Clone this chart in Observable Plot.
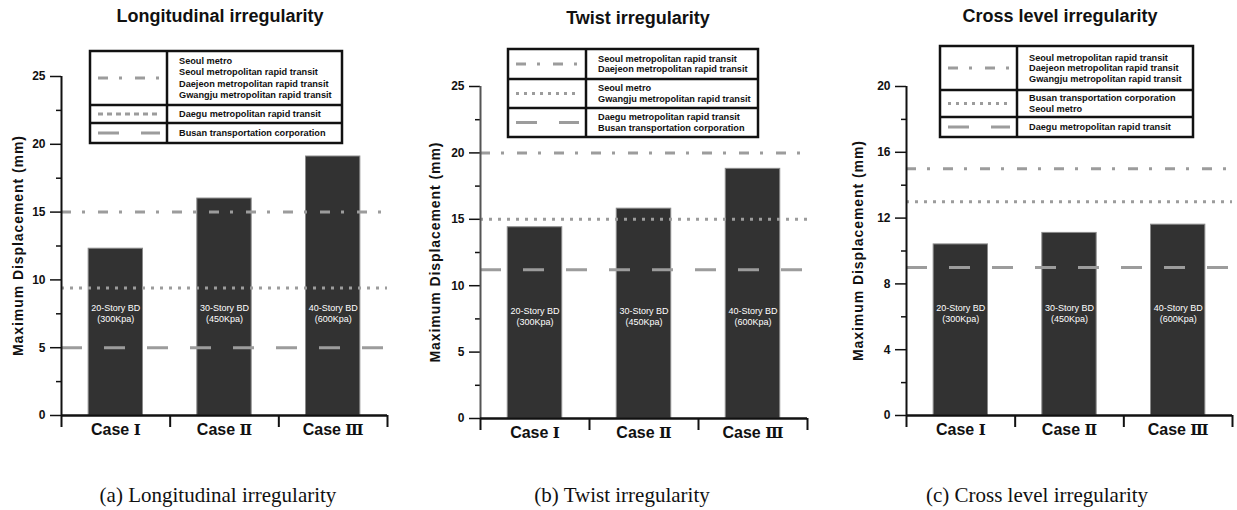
<!DOCTYPE html>
<html><head><meta charset="utf-8">
<script src="https://cdn.jsdelivr.net/npm/d3@7"></script>
<script src="https://cdn.jsdelivr.net/npm/@observablehq/plot@0.6"></script>
<style>
body{margin:0;background:#fff;}
#root{position:relative;width:1237px;height:510px;overflow:hidden;font-family:"Liberation Sans",Arial,sans-serif;background:#fff;}
.title{position:absolute;font-weight:bold;font-size:18px;transform:translate(-50%,-50%);white-space:nowrap;color:#111;}
.caption{position:absolute;font-family:"Liberation Serif","Times New Roman",serif;font-size:21px;transform:translate(-50%,-50%);white-space:nowrap;color:#111;}
.panel{position:absolute;top:0;}
#overlay{position:absolute;left:0;top:0;pointer-events:none;}
</style></head><body><div id="root"></div>
<script>
// ---------- data ----------
const cases = ["Case Ⅰ", "Case Ⅱ", "Case Ⅲ"];
const buildings = ["20-Story BD\n(300Kpa)", "30-Story BD\n(450Kpa)", "40-Story BD\n(600Kpa)"];
const titles = ["Longitudinal irregularity", "Twist irregularity", "Cross level irregularity"];
const captions = ["(a) Longitudinal irregularity", "(b) Twist irregularity", "(c) Cross level irregularity"];
const yLabel = "Maximum Displacement (mm)";

const longValues = [12.3, 16.0, 19.1];
const twistValues = [14.4, 15.8, 18.8];
const crossValues = [10.4, 11.1, 11.6];

// limit lines: [dash-dot, dotted, dashed]
const longLimits = [15, 9.4, 5];
const twistLimits = [20, 15, 11.2];
const crossLimits = [15, 13, 9];

const longTicks = [0, 5, 10, 15, 20, 25];
const longMinor = [2.5, 7.5, 12.5, 17.5, 22.5];
const twistTicks = [0, 5, 10, 15, 20, 25];
const twistMinor = [2.5, 7.5, 12.5, 17.5, 22.5];
const crossTicks = [0, 4, 8, 12, 16, 20];
const crossMinor = [2, 6, 10, 14, 18];

const longLegend = [
  ["Seoul metro", "Seoul metropolitan rapid transit", "Daejeon metropolitan rapid transit", "Gwangju metropolitan rapid transit"],
  ["Daegu metropolitan rapid transit"],
  ["Busan transportation corporation"]
];
const twistLegend = [
  ["Seoul metropolitan rapid transit", "Daejeon metropolitan rapid transit"],
  ["Seoul metro", "Gwangju metropolitan rapid transit"],
  ["Daegu metropolitan rapid transit", "Busan transportation corporation"]
];
const crossLegend = [
  ["Seoul metropolitan rapid transit", "Daejeon metropolitan rapid transit", "Gwangju metropolitan rapid transit"],
  ["Busan transportation corporation", "Seoul metro"],
  ["Daegu metropolitan rapid transit"]
];

// ---------- styles / layout ----------
const GRAY = "#9c9c9c";
const dashes = ["10,11,3,13", "3,6", "21,22"];
const FONT = "'Liberation Sans', Arial, sans-serif";
const NUMFONT = "'DejaVu Serif', 'Liberation Serif', serif";

const panels = [
  {values: longValues, limits: longLimits, ticks: longTicks, minor: longMinor, ymax: 25, legend: longLegend,
   left: 0, w: 410, ml: 61, mr: 23, mt: 76, mb: 35, labelDx: -43,
   title: [220, 16], caption: [218, 495],
   lg: {x: 90, y: 51, w: 252, split: 167, rows: [54, 18, 20], lh: 11.5, sample: ["10,11,3,13", "5,4", "21,22"]}},
  {values: twistValues, limits: twistLimits, ticks: twistTicks, minor: twistMinor, ymax: 25, legend: twistLegend,
   left: 410, w: 420, ml: 70, mr: 23, mt: 86, mb: 32, labelDx: -45,
   title: [638, 18], caption: [622, 495],
   lg: {x: 508, y: 49, w: 250, split: 586, rows: [30, 29, 29], lh: 10.5, sample: ["10,11,3,13", "3,5", "21,22"]}},
  {values: crossValues, limits: crossLimits, ticks: crossTicks, minor: crossMinor, ymax: 20, legend: crossLegend,
   left: 830, w: 407, ml: 76, mr: 5, mt: 86, mb: 35, labelDx: -48,
   title: [1060, 16], caption: [1037, 495],
   lg: {x: 940, y: 46, w: 253, split: 1017, rows: [44, 27, 20], lh: 10.5, sample: ["10,11,3,13", "3,5", "21,22"]}}
];

const root = document.getElementById("root");

panels.forEach((p, pi) => {
  const bars = p.values.map((v, i) => ({i, v, label: buildings[i]}));
  const lims = p.limits.map((v, k) => ({v, k}));
  const chart = Plot.plot({
    width: p.w, height: 450,
    marginLeft: p.ml, marginRight: p.mr, marginTop: p.mt, marginBottom: p.mb,
    x: {domain: [0, 3], axis: null},
    y: {domain: [0, p.ymax], axis: null},
    style: {fontFamily: FONT, background: "transparent", overflow: "visible", color: "#111"},
    marks: [
      Plot.rectY(bars, {x1: d => d.i + 0.25, x2: d => d.i + 0.75, y: "v", fill: "#323232", stroke: "#8a8a8a", strokeWidth: 1}),
      ...[0, 1, 2].map(k => Plot.ruleY(lims.filter(d => d.k === k), {
        y: "v", x1: 0, x2: 3, stroke: GRAY, strokeWidth: 3, strokeDasharray: dashes[k]
      })),
      Plot.text(bars, {x: d => d.i + 0.5, text: "label", frameAnchor: "bottom", dy: -103, lineAnchor: "middle",
        fill: "white", fontSize: 9, lineHeight: 1.22}),
      Plot.axisY({ticks: p.ticks, tickSize: 11, tickPadding: 5, fontSize: 12, fontWeight: "bold", label: null, strokeWidth: 1.5, tickFormat: d => d}),
      Plot.axisY({ticks: p.minor, tickSize: 5, tickFormat: () => "", label: null, strokeWidth: 1.5}),
      Plot.ruleX([0], {stroke: pi === 1 ? "#555" : "#111", strokeWidth: 2}),
      Plot.ruleY([0], {stroke: "#111", strokeWidth: 2.5}),
      Plot.axisX({ticks: [0, 1, 2, 3], tickSize: 12, tickFormat: () => "", label: null, strokeWidth: 2}),
      Plot.axisX({ticks: [0.5, 1.5, 2.5], tickSize: 0, tickPadding: 8, tickFormat: t => cases[Math.floor(t)],
        fontSize: 16, fontWeight: "bold", label: null}),
      Plot.text([yLabel], {text: d => d, frameAnchor: "left", textAnchor: "middle", rotate: -90, dx: p.labelDx,
        fontWeight: "bold", fontSize: 14})
    ]
  });
  chart.classList.add("panel");
  chart.style.left = p.left + "px";
  chart.style.top = "0px";
  root.appendChild(chart);

  // y label: spread to the reference length
  d3.select(chart).selectAll("text").filter(function () { return this.textContent === yLabel; })
    .attr("font-size", 14).attr("font-weight", "bold")
    .attr("textLength", 220).attr("lengthAdjust", "spacing");
  // case labels: roman numerals in a serifed face
  d3.select(chart).selectAll("text").filter(function () { return cases.includes(this.textContent); })
    .each(function () {
      const s = this.textContent;
      const [word, num] = s.split(" ");
      const el = d3.select(this);
      el.text(null);
      el.append("tspan").text(word + " ");
      el.append("tspan").attr("font-family", NUMFONT).attr("font-weight", "bold").attr("font-size", 15).text(num);
    });

  const t = document.createElement("div");
  t.className = "title"; t.textContent = titles[pi];
  t.style.left = p.title[0] + "px"; t.style.top = p.title[1] + "px";
  root.appendChild(t);
  const c = document.createElement("div");
  c.className = "caption"; c.textContent = captions[pi];
  c.style.left = p.caption[0] + "px"; c.style.top = p.caption[1] + "px";
  root.appendChild(c);
});

// ---------- legends ----------
const ov = d3.select(root).append("svg").attr("id", "overlay").attr("width", 1237).attr("height", 510);
const LFONT = "'Liberation Sans Narrow', 'Liberation Sans', Arial, sans-serif";
const probe = ov.append("text").attr("font-family", LFONT).attr("font-size", 9.2).attr("font-weight", "bold")
  .text("Seoul metropolitan rapid transit");
const probeW = probe.node().getComputedTextLength();
probe.remove();
const squeeze = Math.min(1, 143 / probeW);

panels.forEach((p) => {
  const L = p.lg;
  const total = d3.sum(L.rows);
  const g = ov.append("g");
  g.append("rect").attr("x", L.x).attr("y", L.y).attr("width", L.w).attr("height", total)
    .attr("fill", "white").attr("stroke", "#111").attr("stroke-width", 2.5);
  g.append("line").attr("x1", L.split).attr("x2", L.split).attr("y1", L.y).attr("y2", L.y + total)
    .attr("stroke", "#111").attr("stroke-width", 2.5);
  let y0 = L.y;
  p.legend.forEach((lines, r) => {
    const h = L.rows[r];
    if (r > 0) g.append("line").attr("x1", L.x).attr("x2", L.x + L.w).attr("y1", y0).attr("y2", y0)
      .attr("stroke", "#111").attr("stroke-width", 2.5);
    const cy = y0 + h / 2;
    g.append("line").attr("x1", L.x + 8).attr("x2", L.split - 7).attr("y1", cy).attr("y2", cy)
      .attr("stroke", GRAY).attr("stroke-width", 3).attr("stroke-dasharray", L.sample[r]);
    const n = lines.length;
    lines.forEach((s, j) => {
      const ty = cy + (j - (n - 1) / 2) * L.lh;
      const tx = g.append("text").attr("x", L.split + 12).attr("y", ty).attr("dy", "0.35em")
        .attr("font-family", LFONT).attr("font-size", 9.2).attr("font-weight", "bold").attr("fill", "#111")
        .text(s);
      const w = tx.node().getComputedTextLength();
      if (squeeze < 1) tx.attr("textLength", w * squeeze).attr("lengthAdjust", "spacingAndGlyphs");
    });
    y0 += h;
  });
});
</script></body></html>
